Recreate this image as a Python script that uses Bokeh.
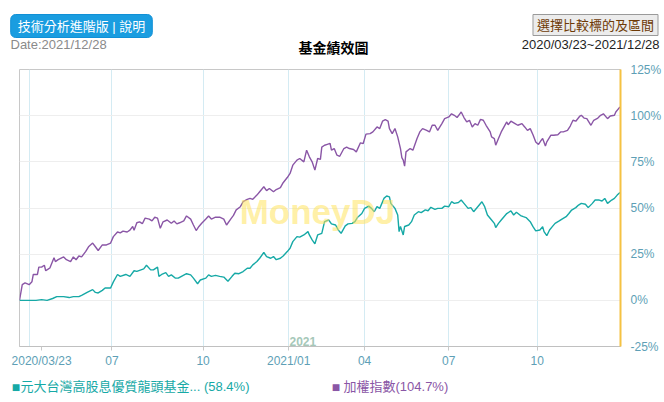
from bokeh.plotting import figure
from bokeh.layouts import column
from bokeh.models import Range1d, FixedTicker, Label
from bokeh.embed import file_html
from bokeh.resources import INLINE

# ---- data (trading-day index since 2020/03/23, cumulative return %) ----
fund_day = [0, 7, 12, 16, 20, 24, 27, 32, 36, 39, 43, 45, 49, 53, 55, 57, 60, 62, 66, 68,
            71, 73, 77, 80, 83, 85, 88, 90, 92, 95, 97, 100, 101, 103, 106, 108, 110, 113,
            115, 118, 121, 124, 126, 129, 131, 135, 137, 139, 142, 145, 148, 151, 154, 156,
            159, 162, 165, 167, 169, 172, 174, 177, 179, 182, 184, 186, 189, 191, 194, 196,
            198, 201, 203, 206, 209, 210, 212, 214, 216, 219, 221, 224, 226, 229, 231, 233,
            236, 238, 241, 243, 245, 248, 250, 253, 255, 257, 259, 261, 264, 266, 268, 269,
            271, 272, 274, 275, 276, 278, 279, 282, 284, 286, 289, 291, 294, 296, 298, 301,
            303, 306, 308, 311, 313, 315, 318, 320, 322, 325, 327, 329, 332, 335, 337, 339,
            342, 344, 345, 347, 349, 351, 353, 356, 358, 360, 363, 365, 367, 370, 372, 374,
            377, 379, 380, 382, 384, 386, 388, 391, 393, 396, 398, 400, 403, 405, 407, 410,
            412, 415, 417, 420, 422, 424, 426, 429, 431, 433, 435]
fund_ret = [0, 0, 0, 0.4, 0, 1, 2, 2, 1.5, 2, 2, 2.7, 4.3, 5.8, 4.3, 4, 5.4, 6.7, 6.7, 10,
            14, 13, 14, 13, 16, 15.7, 16.5, 17, 19, 16.5, 16.5, 18, 13, 14, 15, 13, 13.8, 12,
            12, 13.3, 14.4, 13.8, 12, 9, 11, 12, 13.8, 13, 13.5, 13, 12.6, 10.3, 13, 14.7,
            14.4, 15.6, 17.4, 17.4, 19.2, 21, 22.8, 25.9, 23.7, 22.8, 23.7, 22, 22.8, 24, 26.4, 28.2,
            31.8, 34.5, 34.2, 35.4, 37.2, 35.4, 32.7, 30.6, 35.4, 36.3, 42.6, 43.5, 41.4, 40.8, 38, 36.3,
            40.3, 41.4, 41.7, 42.6, 45, 47, 49.8, 51, 49.8, 48, 50.7, 49.8, 55.2, 56.5, 56, 52.5,
            50.7, 49.8, 46.2, 37.2, 40, 35.4, 40, 40.8, 42.6, 46.2, 48, 47.5, 49, 48.5, 50.4, 49.3,
            49.8, 49.8, 51, 50.7, 53.4, 52.5, 53, 54.3, 52.5, 49.8, 50.2, 48, 50.7, 53.4, 50.7, 46.2,
            43.5, 41.7, 39.4, 41.7, 43.5, 45.3, 47, 48.4, 46.2, 47.7, 45.9, 45.3, 44.8, 42.6, 39.9, 37.6,
            38.1, 39.9, 37.2, 35, 38.1, 39.9, 41.7, 43, 44, 45.3, 47, 48.9, 50.2, 51.6, 52.5, 52,
            50.2, 52.5, 54.3, 54.3, 53.8, 55.2, 52.5, 54.3, 55.2, 57, 58.4]

index_day = [0, 2, 4, 7, 9, 10, 13, 14, 16, 18, 19, 21, 22, 25, 26, 28, 32, 34, 37, 39, 41,
             43, 45, 48, 50, 53, 55, 57, 60, 63, 66, 68, 71, 73, 75, 78, 80, 82, 83, 85, 87,
             89, 91, 94, 96, 98, 100, 102, 104, 107, 110, 112, 114, 116, 119, 121, 124, 126,
             128, 130, 132, 135, 137, 139, 142, 145, 148, 150, 153, 155, 157, 160, 162, 165,
             167, 169, 172, 174, 177, 179, 181, 184, 186, 189, 191, 194, 196, 198, 201, 203,
             206, 208, 210, 212, 214, 216, 218, 219, 221, 223, 225, 226, 228, 230, 232, 235,
             237, 239, 242, 244, 247, 249, 251, 254, 256, 259, 261, 263, 265, 267, 268, 270,
             272, 274, 276, 277, 278, 279, 280, 283, 285, 288, 290, 292, 295, 297, 299, 301,
             303, 306, 308, 311, 313, 315, 317, 319, 320, 322, 324, 326, 328, 330, 332, 334,
             336, 338, 341, 342, 344, 345, 347, 349, 351, 353, 354, 356, 359, 361, 364, 366,
             368, 370, 372, 374, 376, 378, 379, 381, 382, 385, 387, 390, 392, 394, 397, 399,
             401, 403, 406, 407, 409, 411, 414, 416, 419, 421, 423, 426, 428, 431, 432, 434, 435]
index_ret = [0, 8.5, 9.4, 8.5, 10, 14, 14, 18, 18, 19, 16, 17, 17.5, 23, 21, 22, 23.5, 22, 21, 23.5, 22,
             24, 23.5, 26.5, 29, 31, 29, 27, 30, 30, 31, 34.5, 37, 36.5, 37.5, 37, 38, 40, 38, 42, 42.5,
             41.5, 44.5, 44, 43, 45, 44.5, 39, 42.5, 43.5, 41.7, 43, 41.4, 42, 43, 45.7, 44, 40.8,
             37.8, 40, 41.7, 44, 45.7, 44, 45, 45, 44, 40.8, 44, 46, 49, 50.7, 53.4, 54.7,
             55.2, 54.7, 57, 58.8, 61.5, 59.4, 60.6, 58.8, 60, 61, 63.7, 66.5, 68.7, 73.2, 75.9, 76.8,
             75, 81.3, 77.7, 75, 70.5, 76.8, 76.3, 83, 84, 84.5, 85, 81.3, 82.2, 78.6, 78, 82.2,
             83, 82.2, 81.7, 80.4, 85.3, 84.9, 90, 90.3, 91.2, 93.9, 93, 97, 97.8, 97, 93, 90.3,
             93, 88.5, 82.2, 77.3, 75.9, 72.7, 80.4, 82.2, 81.3, 87.6, 91.2, 93, 92, 91.2, 94.8, 94.8,
             92, 95.7, 98.4, 99.3, 101, 100.2, 99, 101, 102, 99, 96.6, 97.5, 93.9, 95.7, 94.8, 98,
             97.5, 94.8, 91.2, 88.5, 87.6, 84, 87.6, 91.2, 93.9, 96.6, 95.1, 97, 95.7, 94.8, 95.7, 93.9,
             92, 93, 89.7, 85.8, 84.4, 86.7, 87.6, 83.6, 85.8, 89.4, 89.4, 89.7, 91.2, 91.2, 92, 94.4,
             97.5, 97, 99.8, 100.2, 98.7, 98.4, 94.8, 97.5, 98.7, 100.2, 101, 98.4, 99.8, 100.2, 102, 103.8, 104.7]

x_tick_days = [16, 67, 133, 195, 250, 311, 375]
x_tick_labels = ["2020/03/23", "07", "10", "2021/01", "04", "07", "10"]
month_grid_days = [7, 67, 133, 195, 250, 311, 375]
y_ticks = [-25, 0, 25, 50, 75, 100, 125]
y_tick_labels = ["-25%", "0%", "25%", "50%", "75%", "100%", "125%"]

fund_name = "元大台灣高股息優質龍頭基金... (58.4%)"
index_name = "加權指數(104.7%)"
chart_title = "基金績效圖"
date_text = "Date:2021/12/28"
period_text = "2020/03/23~2021/12/28"
btn_left = "技術分析進階版 | 說明"
btn_right = "選擇比較標的及區間"

FUND_C = "#16a9a6"
INDEX_C = "#8a56a6"
AXIS_TXT = "#5e9fb6"
FONT = "Liberation Sans, Noto Sans CJK TC"


def blank_panel(h):
    f = figure(width=664, height=h, output_backend="svg", toolbar_location=None,
               x_range=Range1d(0, 664), y_range=Range1d(h, 0),
               x_axis_location=None, y_axis_location=None, min_border=0,
               frame_align=False)
    f.outline_line_color = None
    f.xgrid.visible = False
    f.ygrid.visible = False
    f.background_fill_color = "white"
    f.border_fill_color = "white"
    return f


def txt(f, x, y, text, align="left", size="13px", color="#000", style="normal", **kw):
    f.add_layout(Label(x=x, y=y, text=text, text_align=align, text_baseline="middle",
                       text_font=FONT, text_font_size=size, text_color=color,
                       text_font_style=style, **kw))


# ---------------- header ----------------
HEAD_H = 56
head = blank_panel(HEAD_H)
txt(head, 81, 25.5, btn_left, align="center", size="13px", color="white",
    background_fill_color="#1a9de0", border_line_color="#1190d6",
    padding=(7, 4), border_radius=5)
txt(head, 595, 24.5, btn_right, align="center", size="13px", color="#6e3a06",
    background_fill_color="#ececec", border_line_color="#9a9a9a", padding=(4, 3))
txt(head, 10, 44, date_text, size="13px", color="#8a8a8a")
txt(head, 333, 47, chart_title, align="center", size="14px", color="#000000", style="bold")
txt(head, 659, 44, period_text, align="right", size="13px", color="#1e1e1e")

# ---------------- main chart ----------------
p = figure(width=664, height=316, output_backend="svg", toolbar_location=None,
           x_range=Range1d(0, 435.4), y_range=Range1d(-25, 125),
           y_axis_location="right", frame_align=False,
           min_border_left=19, min_border_right=43, min_border_top=13, min_border_bottom=26)
p.background_fill_color = "white"
p.border_fill_color = "white"
p.outline_line_color = "#c8c8c8"

p.xgrid.ticker = FixedTicker(ticks=month_grid_days)
p.xgrid.grid_line_color = "#d4ebf3"
p.ygrid.ticker = FixedTicker(ticks=y_ticks)
p.ygrid.grid_line_color = "#eeeeee"

xa = p.xaxis[0]
xa.ticker = FixedTicker(ticks=x_tick_days)
xa.major_label_overrides = {d: t for d, t in zip(x_tick_days, x_tick_labels)}
xa.axis_line_color = "#c0c0c0"
xa.major_tick_line_color = "#c8c8c8"
xa.major_tick_out = 4
xa.major_tick_in = 0
xa.minor_tick_line_color = None
xa.major_label_standoff = 3
xa.major_label_text_color = AXIS_TXT
xa.major_label_text_font = FONT
xa.major_label_text_font_size = "12px"

ya = p.yaxis[0]
ya.ticker = FixedTicker(ticks=y_ticks)
ya.major_label_overrides = {v: t for v, t in zip(y_ticks, y_tick_labels)}
ya.axis_line_color = "#f5c242"
ya.axis_line_width = 2
ya.major_tick_line_color = None
ya.minor_tick_line_color = None
ya.major_label_standoff = 4
ya.major_label_text_color = AXIS_TXT
ya.major_label_text_font = FONT
ya.major_label_text_font_size = "12px"

p.line(index_day, index_ret, line_color=INDEX_C, line_width=1.4)
p.line(fund_day, fund_ret, line_color=FUND_C, line_width=1.4)

p.add_layout(Label(x=298, y=135, x_units="screen", y_units="screen", text="MoneyDJ",
                   text_align="center", text_baseline="middle", text_font=FONT,
                   text_font_style="bold", text_font_size="35px",
                   text_color="#ffe45c", text_alpha=0.55))
p.add_layout(Label(x=270, y=5, x_units="screen", y_units="screen", text="2021",
                   text_align="left", text_baseline="middle", text_font=FONT,
                   text_font_style="bold", text_font_size="12px", text_color="#a6c8b9"))

# ---------------- footer legend ----------------
FOOT_H = 30
foot = blank_panel(FOOT_H)
txt(foot, 15.5, 14.5, "■", align="center", size="14px", color=FUND_C)
txt(foot, 20, 14, fund_name, size="13px", color=FUND_C)
txt(foot, 335.5, 14.5, "■", align="center", size="14px", color=INDEX_C)
txt(foot, 343, 14, index_name, size="13px", color=INDEX_C)

layout = column(head, p, foot, spacing=0)
open("out.html", "w").write(file_html(layout, INLINE))
